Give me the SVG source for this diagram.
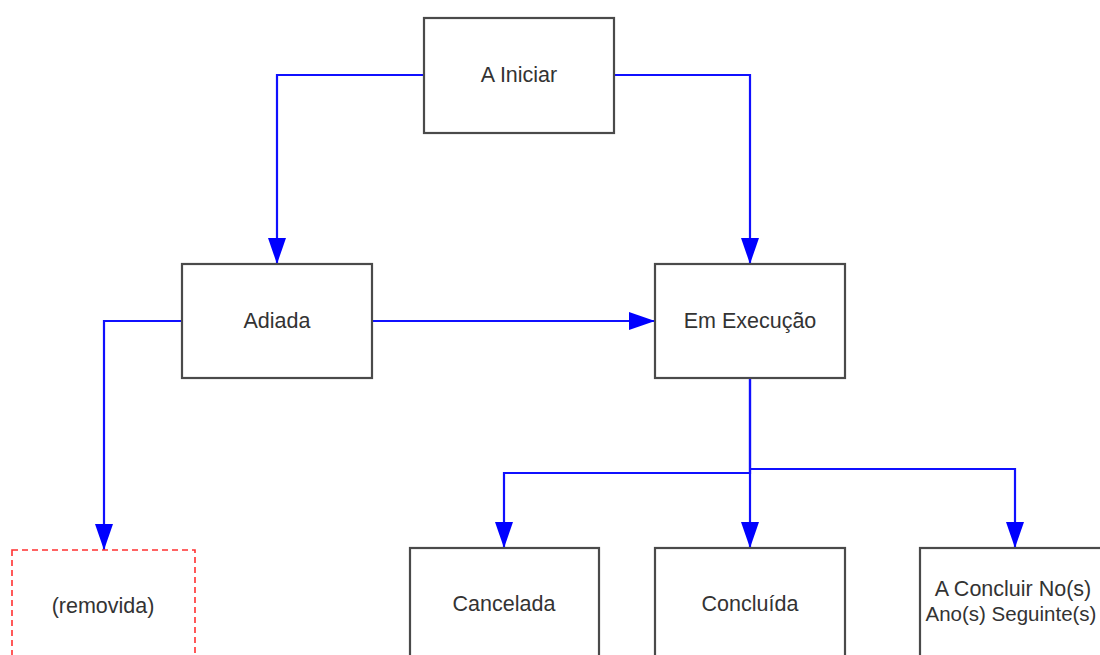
<svg xmlns="http://www.w3.org/2000/svg" width="1100" height="655" viewBox="0 0 1100 655">
<style>
.box{fill:#fff;stroke:#4a4a4a;stroke-width:2.2}
.rem{fill:#fff;stroke:#ff3030;stroke-width:1.6;stroke-dasharray:6,4}
.lbl{font-family:"Liberation Sans",Arial,sans-serif;font-size:21.5px;fill:#333;text-anchor:middle;dominant-baseline:central}
.con{fill:none;stroke:#1010ff;stroke-width:2.2}
</style>
<defs>
<marker id="ah" markerUnits="userSpaceOnUse" markerWidth="28" markerHeight="20" refX="26" refY="9" orient="auto">
<path d="M0,0 L26,9 L0,18 Z" fill="#0000ff"/>
</marker>
</defs>
<rect width="1100" height="655" fill="#fff"/>
<g id="connectors">
<path class="con" d="M424,75 H277 V264" marker-end="url(#ah)"/>
<path class="con" d="M614,75 H750 V264" marker-end="url(#ah)"/>
<path class="con" d="M372,321 H655" marker-end="url(#ah)"/>
<path class="con" d="M182,321 H104 V550" marker-end="url(#ah)"/>
<path class="con" d="M750,378 V473 H504 V548" marker-end="url(#ah)"/>
<path class="con" d="M750,378 V548" marker-end="url(#ah)"/>
<path class="con" d="M750,469 H1015 V548" marker-end="url(#ah)"/>
</g>
<g id="n-iniciar"><rect class="box" x="424" y="18" width="190" height="115"/><text class="lbl" x="519" y="75">A Iniciar</text></g>
<g id="n-adiada"><rect class="box" x="182" y="264" width="190" height="114"/><text class="lbl" x="277" y="321">Adiada</text></g>
<g id="n-execucao"><rect class="box" x="655" y="264" width="190" height="114"/><text class="lbl" x="750" y="321">Em Execução</text></g>
<g id="n-removida"><rect class="rem" x="12" y="550" width="183" height="130"/><text class="lbl" x="103" y="606">(removida)</text></g>
<g id="n-cancelada"><rect class="box" x="410" y="548" width="189" height="130"/><text class="lbl" x="504" y="604">Cancelada</text></g>
<g id="n-concluida"><rect class="box" x="655" y="548" width="190" height="130"/><text class="lbl" x="750" y="604">Concluída</text></g>
<g id="n-aconcluir"><rect class="box" x="920" y="548" width="190" height="130"/><text class="lbl" x="1013" y="589">A Concluir No(s)</text><text class="lbl" x="1011" y="613" style="font-size:20.5px">Ano(s) Seguinte(s)</text></g>
</svg>
